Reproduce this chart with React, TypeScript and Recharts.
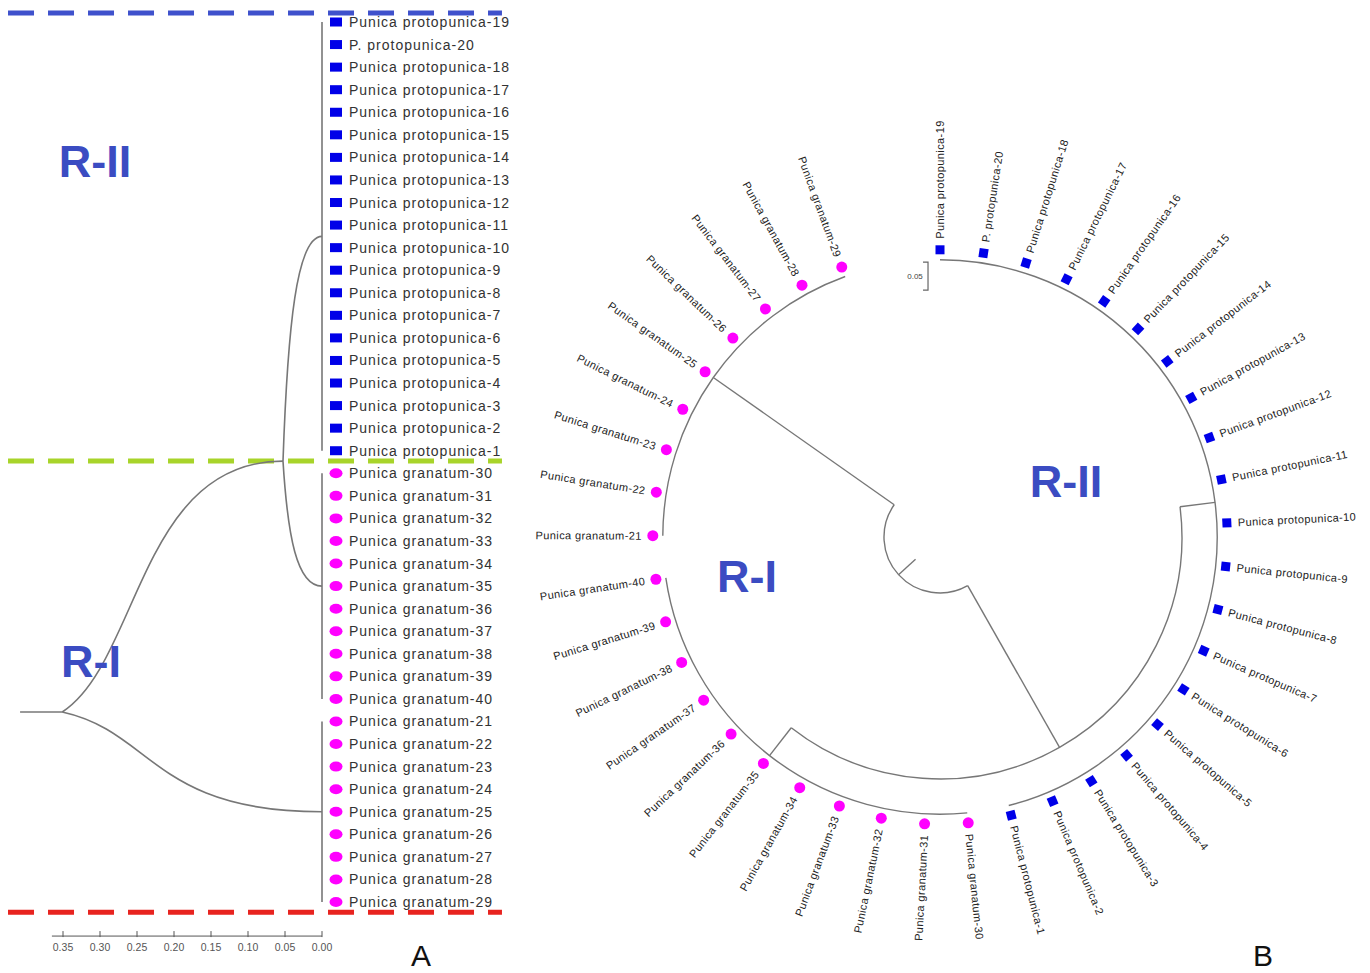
import React from 'react';
import { ComposedChart, Line, Scatter, XAxis, YAxis } from 'recharts';

// ---------------- DATA ----------------
// leaf order (top to bottom in A, clockwise from top in B)
const protopunicaLeaves = [
  'Punica protopunica-19', 'P. protopunica-20', 'Punica protopunica-18', 'Punica protopunica-17',
  'Punica protopunica-16', 'Punica protopunica-15', 'Punica protopunica-14', 'Punica protopunica-13',
  'Punica protopunica-12', 'Punica protopunica-11', 'Punica protopunica-10', 'Punica protopunica-9',
  'Punica protopunica-8', 'Punica protopunica-7', 'Punica protopunica-6', 'Punica protopunica-5',
  'Punica protopunica-4', 'Punica protopunica-3', 'Punica protopunica-2', 'Punica protopunica-1',
];
const granatumLeaves = [
  'Punica granatum-30', 'Punica granatum-31', 'Punica granatum-32', 'Punica granatum-33',
  'Punica granatum-34', 'Punica granatum-35', 'Punica granatum-36', 'Punica granatum-37',
  'Punica granatum-38', 'Punica granatum-39', 'Punica granatum-40', 'Punica granatum-21',
  'Punica granatum-22', 'Punica granatum-23', 'Punica granatum-24', 'Punica granatum-25',
  'Punica granatum-26', 'Punica granatum-27', 'Punica granatum-28', 'Punica granatum-29',
];
// clusters as [first leaf index, last leaf index]
const clusterP = [0, 19];
const clusterG1 = [20, 30];
const clusterG2 = [31, 39];

// Panel A: genetic distance of internal nodes
const n1DistA = 0.0527;
const rootDistA = 0.351;
const rootStubDistA = 0.408;
const n1RowA = 19.46;
const rootRowA = 30.58;
const axisTicksA = [0.35, 0.3, 0.25, 0.2, 0.15, 0.1, 0.05, 0.0];
const axisExtentA = 0.365;
const regionLabels = ['R-II', 'R-I'];

// Panel B: radial distances of nodes
const gapDegB = 20;
const tipRadiusB = 0.495;
const n1RadiusB = 0.432;
const rootRadiusB = 0.1;
const rootStubRadiusB = 0.059;
const scaleBarLenB = 0.05;

// ---------------- STYLE / LAYOUT ----------------
const FONT = 'Arial, "Liberation Sans", Helvetica, sans-serif';
const LINE = '#777777';
const BLUE = '#0000e8';
const MAGENTA = '#ff00ff';
const REGION_TEXT = '#3b4cc2';
const REGION_LINE_COLORS = ['#3f51cc', '#a8d42a', '#e8231f'];

const A_W = 525, A_H = 973;
const A_PX = 740, A_ZERO_X = 322;
const A_ROW_PX = 22.564, A_ROW0 = 22;
const xDomainA = [(A_ZERO_X - A_W) / A_PX, A_ZERO_X / A_PX];
const yDomainA = [-A_ROW0 / A_ROW_PX, (A_H - A_ROW0) / A_ROW_PX];
const regionRowsA = [-0.4, 19.46, 39.45];
const regionSpanA = [0.4243, -0.2432];
const axisRowA = 40.51;
const regionPosA = [[0.3068, 6.87], [0.3122, 29.03]];

const B_LEFT = 520, B_W = 850, B_H = 973, B_CX = 420, B_CY = 537, B_PX = 560;
const xDomainB = [-B_CX / B_PX, (B_W - B_CX) / B_PX];
const yDomainB = [-(B_H - B_CY) / B_PX, B_CY / B_PX];
const regionPosB = [[0.225, 0.0714], [-0.3446, -0.0982]];
const scaleBarPosB = [-0.0214, 0.441];

// ---------------- DERIVED ----------------
const leafNames = [...protopunicaLeaves, ...granatumLeaves];
const groupOf = (i: number) => (i < protopunicaLeaves.length ? 'p' : 'g');
const midRow = (c: number[]) => (c[0] + c[1]) / 2;

const stepB = (360 - gapDegB) / (leafNames.length - 1);
const angleOf = (i: number) => i * stepB;
const polar = (r: number, deg: number) => {
  const t = (deg * Math.PI) / 180;
  return { x: r * Math.sin(t), y: r * Math.cos(t) };
};
const midAngle = (c: number[]) => (angleOf(c[0]) + angleOf(c[1])) / 2;

// custom curves
const bezierCurve = (a: number, b: number, c: number) => (ctx: any) => {
  let pts: number[][] = [];
  return {
    areaStart() {},
    areaEnd() {},
    lineStart() { pts = []; },
    point(x: number, y: number) { pts.push([x, y]); },
    lineEnd() {
      if (pts.length < 2) return;
      const [x0, y0] = pts[0];
      const [x1, y1] = pts[pts.length - 1];
      const dx = x1 - x0, dy = y1 - y0;
      ctx.moveTo(x0, y0);
      ctx.bezierCurveTo(x0 + a * dx, y0 + b * dy, x0 + c * dx, y1, x1, y1);
    },
  };
};
const rootCurve = bezierCurve(0.35, 0.2, 0.35);
const innerCurve = bezierCurve(0.12, 0.6, 0.35);

const arcCurve = (ctx: any) => {
  let pts: number[][] = [];
  return {
    areaStart() {},
    areaEnd() {},
    lineStart() { pts = []; },
    point(x: number, y: number) { pts.push([x, y]); },
    lineEnd() {
      if (pts.length < 3) return;
      const [xc, yc] = pts[0];
      const [x1, y1] = pts[1];
      const [x2, y2] = pts[2];
      const r = Math.hypot(x1 - xc, y1 - yc);
      const a0 = Math.atan2(y1 - yc, x1 - xc);
      let a1 = Math.atan2(y2 - yc, x2 - xc);
      if (a1 < a0) a1 += 2 * Math.PI;
      ctx.moveTo(x1, y1);
      ctx.arc(xc, yc, r, a0, a1, false);
    },
  };
};

// ---- Panel A series ----
const leafDataA = leafNames.map((name, i) => ({ x: 0, y: i, name, group: groupOf(i) }));
const branchesA: { data: any[]; type: any }[] = [
  ...[clusterP, clusterG1, clusterG2].map((c) => ({
    data: [{ x: 0, y: c[0] }, { x: 0, y: c[1] }],
    type: 'linear',
  })),
  { data: [{ x: n1DistA, y: n1RowA }, { x: 0, y: midRow(clusterP) }], type: innerCurve },
  { data: [{ x: n1DistA, y: n1RowA }, { x: 0, y: midRow(clusterG1) }], type: innerCurve },
  { data: [{ x: rootDistA, y: rootRowA }, { x: n1DistA, y: n1RowA }], type: rootCurve },
  { data: [{ x: rootDistA, y: rootRowA }, { x: 0, y: midRow(clusterG2) }], type: rootCurve },
  { data: [{ x: rootStubDistA, y: rootRowA }, { x: rootDistA, y: rootRowA }], type: 'linear' },
];
const regionLinesA = regionRowsA.map((r) => [
  { x: regionSpanA[0], y: r },
  { x: regionSpanA[1], y: r },
]);
const axisLineA = [{ x: axisExtentA, y: axisRowA }, { x: 0, y: axisRowA }];
const axisTickDataA = axisTicksA.map((t) => ({ x: t, y: axisRowA, label: t.toFixed(2) }));
const regionTextA = regionLabels.map((t, i) => ({ x: regionPosA[i][0], y: regionPosA[i][1], text: t }));

// ---- Panel B series ----
const leafDataB = leafNames.map((name, i) => ({
  ...polar(tipRadiusB, angleOf(i)),
  angle: angleOf(i),
  name,
  group: groupOf(i),
}));
const center = { x: 0, y: 0 };
const n1AngleB = (midAngle(clusterP) + midAngle(clusterG1)) / 2;
const g2AngleB = midAngle(clusterG2);
const rootAngleB = (n1AngleB + g2AngleB) / 2;
const arcsB = [
  [center, polar(tipRadiusB, angleOf(clusterP[0])), polar(tipRadiusB, angleOf(clusterP[1]))],
  [center, polar(tipRadiusB, angleOf(clusterG1[0])), polar(tipRadiusB, angleOf(clusterG1[1]))],
  [center, polar(tipRadiusB, angleOf(clusterG2[0])), polar(tipRadiusB, angleOf(clusterG2[1]))],
  [center, polar(n1RadiusB, midAngle(clusterP)), polar(n1RadiusB, midAngle(clusterG1))],
  [center, polar(rootRadiusB, n1AngleB), polar(rootRadiusB, g2AngleB)],
];
const radialsB = [
  [polar(n1RadiusB, midAngle(clusterP)), polar(tipRadiusB, midAngle(clusterP))],
  [polar(n1RadiusB, midAngle(clusterG1)), polar(tipRadiusB, midAngle(clusterG1))],
  [polar(rootRadiusB, n1AngleB), polar(n1RadiusB, n1AngleB)],
  [polar(rootRadiusB, g2AngleB), polar(tipRadiusB, g2AngleB)],
  [polar(rootStubRadiusB, rootAngleB), polar(rootRadiusB, rootAngleB)],
];
const tickLenB = 5 / B_PX;
const scaleBarB = [
  { x: scaleBarPosB[0] - tickLenB, y: scaleBarPosB[1] + scaleBarLenB },
  { x: scaleBarPosB[0], y: scaleBarPosB[1] + scaleBarLenB },
  { x: scaleBarPosB[0], y: scaleBarPosB[1] },
  { x: scaleBarPosB[0] - tickLenB, y: scaleBarPosB[1] },
];
const scaleTextB = [{ x: scaleBarPosB[0] - 13 / B_PX, y: scaleBarPosB[1] + scaleBarLenB / 2, text: String(scaleBarLenB) }];
const regionTextB = regionLabels.map((t, i) => ({ x: regionPosB[i][0], y: regionPosB[i][1], text: t }));

// ---------------- SHAPES ----------------
const LeafMarkerA = (props: any) => {
  const { cx, cy, payload } = props;
  const mx = cx + 14;
  return (
    <g>
      {payload.group === 'p' ? (
        <rect x={mx - 6} y={cy - 4.5} width={12} height={9} fill={BLUE} />
      ) : (
        <ellipse cx={mx} cy={cy} rx={6.5} ry={5} fill={MAGENTA} />
      )}
      <text
        x={cx + 27}
        y={cy}
        dominantBaseline="central"
        fontSize={14}
        letterSpacing={1}
        fill="#333"
        fontFamily={FONT}
      >
        {payload.name}
      </text>
    </g>
  );
};

const AxisTickA = (props: any) => {
  const { cx, cy, payload } = props;
  return (
    <g>
      <line x1={cx} x2={cx} y1={cy - 5} y2={cy + 1} stroke="#555" strokeWidth={1} />
      <text x={cx} y={cy + 11} textAnchor="middle" dominantBaseline="central" fontSize={10.5} fill="#555" fontFamily={FONT}>
        {payload.label}
      </text>
    </g>
  );
};

const RegionText = (props: any) => {
  const { cx, cy, payload } = props;
  return (
    <text x={cx} y={cy} textAnchor="middle" fontSize={45} fontWeight="bold" fill={REGION_TEXT} fontFamily={FONT}>
      {payload.text}
    </text>
  );
};

const SmallText = (props: any) => {
  const { cx, cy, payload } = props;
  return (
    <text x={cx} y={cy} textAnchor="middle" dominantBaseline="central" fontSize={8} fill="#444" fontFamily={FONT}>
      {payload.text}
    </text>
  );
};

const LeafMarkerB = (props: any) => {
  const { cx, cy, payload } = props;
  const t = (payload.angle * Math.PI) / 180;
  const ux = Math.sin(t), uy = -Math.cos(t);
  const mx = cx + ux * 10, my = cy + uy * 10;
  const lx = cx + ux * 21, ly = cy + uy * 21;
  const right = payload.angle < 180;
  const rot = right ? payload.angle - 90 : payload.angle + 90;
  return (
    <g>
      {payload.group === 'p' ? (
        <rect
          x={mx - 4.5}
          y={my - 4.5}
          width={9}
          height={9}
          fill={BLUE}
          transform={`rotate(${payload.angle} ${mx} ${my})`}
        />
      ) : (
        <circle cx={mx} cy={my} r={5.5} fill={MAGENTA} />
      )}
      <text
        x={lx}
        y={ly}
        transform={`rotate(${rot} ${lx} ${ly})`}
        textAnchor={right ? 'start' : 'end'}
        dominantBaseline="central"
        fontSize={11}
        letterSpacing={0.4}
        fill="#222"
        fontFamily={FONT}
      >
        {payload.name}
      </text>
    </g>
  );
};

// ---------------- CHARTS ----------------
const PanelA = () => (
  <ComposedChart width={A_W} height={A_H} margin={{ top: 0, right: 0, bottom: 0, left: 0 }}>
    <XAxis type="number" dataKey="x" domain={xDomainA} reversed hide allowDataOverflow />
    <YAxis type="number" dataKey="y" domain={yDomainA} reversed hide allowDataOverflow />
    {regionLinesA.map((d, i) => (
      <Line
        key={`reg${i}`}
        data={d}
        dataKey="y"
        type="linear"
        stroke={REGION_LINE_COLORS[i]}
        strokeWidth={5}
        strokeDasharray="26 14"
        dot={false}
        activeDot={false}
        isAnimationActive={false}
        legendType="none"
      />
    ))}
    {branchesA.map((b, i) => (
      <Line
        key={`br${i}`}
        data={b.data}
        dataKey="y"
        type={b.type}
        stroke={LINE}
        strokeWidth={1.6}
        dot={false}
        activeDot={false}
        isAnimationActive={false}
        legendType="none"
      />
    ))}
    <Line
      data={axisLineA}
      dataKey="y"
      type="linear"
      stroke="#555"
      strokeWidth={1}
      dot={false}
      activeDot={false}
      isAnimationActive={false}
      legendType="none"
    />
    <Scatter data={axisTickDataA} shape={AxisTickA} isAnimationActive={false} legendType="none" />
    <Scatter data={leafDataA} shape={LeafMarkerA} isAnimationActive={false} legendType="none" />
    <Scatter data={regionTextA} shape={RegionText} isAnimationActive={false} legendType="none" />
  </ComposedChart>
);

const PanelB = () => (
  <ComposedChart width={B_W} height={B_H} margin={{ top: 0, right: 0, bottom: 0, left: 0 }}>
    <XAxis type="number" dataKey="x" domain={xDomainB} hide allowDataOverflow />
    <YAxis type="number" dataKey="y" domain={yDomainB} hide allowDataOverflow />
    {arcsB.map((d, i) => (
      <Line
        key={`arc${i}`}
        data={d}
        dataKey="y"
        type={arcCurve as any}
        stroke={LINE}
        strokeWidth={1.4}
        dot={false}
        activeDot={false}
        isAnimationActive={false}
        legendType="none"
      />
    ))}
    {radialsB.map((d, i) => (
      <Line
        key={`rad${i}`}
        data={d}
        dataKey="y"
        type="linear"
        stroke={LINE}
        strokeWidth={1.4}
        dot={false}
        activeDot={false}
        isAnimationActive={false}
        legendType="none"
      />
    ))}
    <Line
      data={scaleBarB}
      dataKey="y"
      type="linear"
      stroke="#666"
      strokeWidth={1.2}
      dot={false}
      activeDot={false}
      isAnimationActive={false}
      legendType="none"
    />
    <Scatter data={scaleTextB} shape={SmallText} isAnimationActive={false} legendType="none" />
    <Scatter data={leafDataB} shape={LeafMarkerB} isAnimationActive={false} legendType="none" />
    <Scatter data={regionTextB} shape={RegionText} isAnimationActive={false} legendType="none" />
  </ComposedChart>
);

const panelLetter: React.CSSProperties = {
  position: 'absolute',
  fontFamily: FONT,
  fontSize: 30,
  lineHeight: '30px',
  color: '#111',
};

export default function App() {
  return (
    <div style={{ position: 'absolute', left: 0, top: 0, width: 1370, height: 973, background: '#fff', overflow: 'hidden' }}>
      <div style={{ position: 'absolute', left: 0, top: 0 }}>
        <PanelA />
      </div>
      <div style={{ position: 'absolute', left: B_LEFT, top: 0 }}>
        <PanelB />
      </div>
      <div style={{ ...panelLetter, left: 411, top: 941 }}>A</div>
      <div style={{ ...panelLetter, left: 1253, top: 941 }}>B</div>
    </div>
  );
}
